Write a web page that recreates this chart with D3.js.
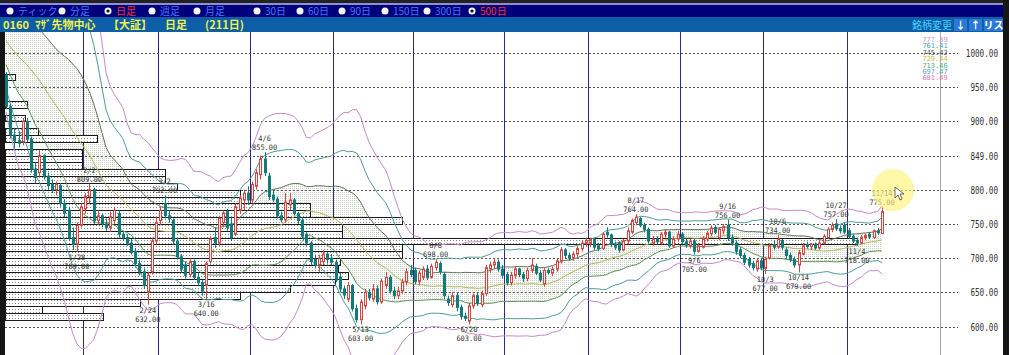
<!DOCTYPE html>
<html>
<head>
<meta charset="utf-8">
<script src="https://cdn.jsdelivr.net/npm/d3@7"></script>
<style>
html, body { margin: 0; padding: 0; background: #1a1a1a; overflow: hidden; }
svg { display: block; }
</style>
</head>
<body>
<script>
// daily candles, 211 sessions (Jan 4 - Nov 14), one line per month
const opens = [
  968,921,880,872,870,900,874,830,825,850,820,808,800,806,780,770,730,720,748,
  772,790,800,755,762,750,745,755,765,735,730,722,710,692,680,650,680,725,
  755,780,762,755,725,702,690,676,695,672,664,660,695,730,722,752,768,750,735,770,785,795,
  785,805,822,845,820,792,786,762,756,778,785,765,755,735,722,698,690,695,706,700,
  694,672,655,640,660,626,610,630,650,640,655,636,660,672,652,645,652,665,682,
  682,666,672,684,672,686,692,676,640,632,645,628,615,608,630,645,632,648,684,690,694,684,
  676,664,675,684,676,670,682,688,678,662,682,678,684,696,712,704,700,706,714,722,
  722,727,718,714,738,734,720,722,712,725,738,752,758,748,742,722,728,722,735,738,718,728,
  735,724,718,725,710,716,728,736,745,730,740,748,730,722,712,704,698,692,684,696,
  685,700,720,716,726,712,704,698,690,706,720,717,720,715,722,730,742,750,743,748,
  740,732,726,722,730,735,730,740,736
];
const highs = [
  972,926,890,885,905,905,878,840,858,852,825,815,812,810,786,775,745,752,780,
  795,809,803,770,765,758,768,775,770,740,735,728,715,698,685,680,730,760,
  775,792,770,758,730,706,695,700,698,678,668,695,732,745,762,770,772,760,780,792,800,805,
  812,830,850,855,825,800,790,768,795,795,788,768,760,738,725,705,705,712,710,706,
  698,678,660,665,662,632,640,655,655,662,660,670,680,675,658,658,670,685,690,
  686,682,688,690,692,698,695,680,645,650,650,632,620,635,648,650,652,690,695,700,698,690,
  680,680,688,686,680,686,700,692,682,685,686,688,700,716,715,708,710,718,726,730,
  730,730,722,738,745,736,724,725,728,745,758,764,760,752,745,732,732,738,742,740,732,740,
  738,728,728,728,722,732,740,748,748,745,750,756,735,726,716,708,702,696,700,699,
  702,722,726,734,728,716,708,702,712,722,724,722,723,726,735,745,752,757,748,752,
  744,735,730,734,736,738,742,744,775
];
const lows = [
  918,875,860,862,865,870,825,810,818,815,800,795,792,775,760,725,712,709,745,
  765,780,750,748,745,740,738,750,730,725,718,705,688,675,655,632,676,720,
  748,758,752,720,698,678,670,672,668,660,645,640,692,715,718,745,740,725,732,765,770,778,
  780,800,815,820,785,782,758,752,752,770,762,750,728,718,690,685,680,690,692,690,
  665,650,640,636,622,606,603,625,638,636,632,633,655,648,640,640,648,660,672,
  662,660,668,668,670,682,676,640,630,628,622,610,608,603,626,630,628,645,678,684,680,670,
  660,660,670,672,665,666,678,675,665,658,676,674,680,692,700,696,696,702,710,716,
  716,712,710,712,730,716,712,708,710,720,735,748,745,738,722,718,720,720,730,715,715,724,
  720,715,714,705,708,714,724,732,735,726,735,725,718,705,700,690,686,682,680,682,
  677,698,712,714,712,700,694,686,679,704,714,712,712,712,720,728,738,740,736,735,
  728,722,718,720,726,728,728,734,735
];
const closes = [
  922,880,872,868,900,874,830,818,850,820,806,800,808,780,766,730,720,748,775,
  790,800,755,762,750,745,760,770,735,730,722,708,692,680,660,675,725,752,
  770,762,758,725,702,684,675,695,672,664,652,692,728,722,758,766,745,730,775,788,795,785,
  808,825,845,825,790,786,762,756,782,785,765,755,732,722,695,690,700,706,698,694,
  668,655,646,660,626,610,636,650,642,655,636,666,672,652,645,652,665,680,676,
  666,678,684,672,688,694,680,645,635,645,628,615,612,630,645,634,648,686,690,694,684,675,
  664,675,684,676,670,682,690,678,668,682,679,684,696,712,704,700,706,714,722,726,
  727,716,714,735,734,720,716,712,725,740,755,760,748,742,725,728,724,735,738,718,728,735,
  724,719,725,710,718,728,736,744,738,742,746,730,722,710,704,694,690,686,696,686,
  698,718,716,728,716,704,698,690,708,718,717,720,715,722,732,742,748,743,740,738,
  732,725,722,730,733,731,740,737,768
];
// closes before the first visible day, only used to seed the 25-day bands
const priorCloses = [1080,1065,1050,1042,1030,1005,1012,1040,1055,1048,1036,1022,
  1000,982,975,990,965,985,1002,1018,1030,1042,1035,1010];

// index of the first session of Feb ... Nov
const monthStarts = [19, 37, 59, 79, 98, 120, 140, 162, 182, 202];

// high / low callouts
const callouts = [
  { i: 17, date: '1/28', value: '709.00', side: 'low' },
  { i: 20, date: '2/2', value: '809.00', side: 'high' },
  { i: 34, date: '2/24', value: '632.00', side: 'low' },
  { i: 38, date: '3/2', value: '792.00', side: 'high' },
  { i: 48, date: '3/16', value: '640.00', side: 'low' },
  { i: 62, date: '4/6', value: '855.00', side: 'high' },
  { i: 85, date: '5/13', value: '603.00', side: 'low' },
  { i: 103, date: '6/8', value: '698.00', side: 'high' },
  { i: 111, date: '6/20', value: '603.00', side: 'low' },
  { i: 151, date: '8/17', value: '764.00', side: 'high' },
  { i: 165, date: '9/6', value: '705.00', side: 'low' },
  { i: 173, date: '9/16', value: '756.00', side: 'high' },
  { i: 182, date: '10/3', value: '677.00', side: 'low' },
  { i: 185, date: '10/6', value: '734.00', side: 'high' },
  { i: 190, date: '10/14', value: '679.00', side: 'low' },
  { i: 199, date: '10/27', value: '757.00', side: 'high' },
  { i: 204, date: '11/4', value: '718.00', side: 'low' },
  { i: 210, date: '11/14', value: '775.00', side: 'high' }
];

// volume by price, 10-point bins (lower edge), relative volume
const profileLow = [960, 920, 900, 880, 870, 850, 840, 830, 820, 810, 800, 790, 780, 770, 760,
  750, 740, 730, 720, 710, 700, 690, 680, 670, 660, 650, 640, 630, 620, 610];
const profileVol = [1.2, 2.6, 2.3, 3.9, 10.8, 9.0, 9.0, 9.0, 18.8, 18.8, 20.2, 27.6, 27.6, 35.8, 35.8,
  46.6, 39.6, 39.6, 100, 46.6, 46.6, 39.3, 39.1, 40.3, 38.7, 33.5, 27.6, 15.8, 4.3, 11.5];

const yTicks = [1000, 950, 900, 849, 800, 750, 700, 650, 600];
const bandValues = ['777.89', '761.41', '745.42', '729.44', '713.46', '697.47', '681.49'];

const periodLabels = ['ティック', '分足', '日足', '週足', '月足', '30日', '60日', '90日', '150日', '300日', '500日'];
const titleParts = ['0160', 'ﾏｻﾞ先物中心', '【大証】', '日足', '(211日)'];

const W = 1009, H = 355;
const svg = d3.select('body').append('svg').attr('width', W).attr('height', H);

const defs = svg.append('defs');
const p1 = defs.append('pattern').attr('id', 'bandDots').attr('patternUnits', 'userSpaceOnUse')
  .attr('width', 2).attr('height', 2);
p1.append('rect').attr('width', 2).attr('height', 2).attr('fill', '#fff');
p1.append('rect').attr('width', 1).attr('height', 1).attr('fill', '#c6d4bf');
const p2 = defs.append('pattern').attr('id', 'volDots').attr('patternUnits', 'userSpaceOnUse')
  .attr('width', 3).attr('height', 3);
p2.append('rect').attr('width', 3).attr('height', 3).attr('fill', '#fff');
p2.append('rect').attr('width', 1).attr('height', 1).attr('fill', '#8a8a8a');
defs.append('clipPath').attr('id', 'plotClip')
  .append('rect').attr('x', 5).attr('y', 32).attr('width', 998).attr('height', 323);

// frame
svg.append('rect').attr('width', W).attr('height', H).attr('fill', '#151515');
svg.append('rect').attr('x', 5).attr('y', 32).attr('width', 998).attr('height', 323).attr('fill', '#fff');

const x = d3.scaleLinear().domain([0, 210]).range([6, 882]);
const y = d3.scaleLinear().domain([600, 1000]).range([326.5, 53]);
const xVol = d3.scaleLinear().domain([0, 100]).range([5, 857]);

const plot = svg.append('g').attr('clip-path', 'url(#plotClip)');

// 25-day bollinger bands
const allCloses = priorCloses.concat(closes);
const off = priorCloses.length;
const boll = closes.map((c, i) => {
  const win = allCloses.slice(i + off - 24, i + off + 1);
  const m = d3.mean(win);
  const sd = Math.sqrt(d3.mean(win, v => (v - m) * (v - m)));
  return { i: i, m: m, sd: sd };
});

plot.append('path')
  .datum(boll)
  .attr('d', d3.area().x(d => x(d.i)).y0(d => y(d.m - d.sd)).y1(d => y(d.m + d.sd)))
  .attr('fill', 'url(#bandDots)');

// grid
plot.selectAll('.grid').data(yTicks).join('line')
  .attr('x1', 5).attr('x2', 958)
  .attr('y1', d => Math.round(y(d)) + 0.5).attr('y2', d => Math.round(y(d)) + 0.5)
  .attr('stroke', '#555').attr('stroke-dasharray', '2,2');

plot.selectAll('.month').data(monthStarts).join('line')
  .attr('x1', d => Math.round(x(d - 0.5)) + 0.5).attr('x2', d => Math.round(x(d - 0.5)) + 0.5)
  .attr('y1', 32).attr('y2', 355)
  .attr('stroke', '#2a2a86');

plot.append('line').attr('x1', 940.5).attr('x2', 940.5).attr('y1', 32).attr('y2', 355)
  .attr('stroke', '#a8a8a8');

// volume by price
plot.selectAll('.vol').data(profileLow).join('rect')
  .attr('x', 5.5)
  .attr('y', d => Math.round(y(d + 10)) + 0.5)
  .attr('width', (d, k) => Math.round(xVol(profileVol[k])) - 5)
  .attr('height', d => Math.round(y(d)) - Math.round(y(d + 10)))
  .attr('fill', 'url(#volDots)')
  .attr('stroke', '#1a1a1a').attr('stroke-width', 1);

// band lines
const bandLines = [
  { k: 3, color: '#c58ac4' }, { k: 2, color: '#4f9c92' }, { k: 1, color: '#5f7458' },
  { k: 0, color: '#b4b45c' }, { k: -1, color: '#5e8f58' }, { k: -2, color: '#4f9c92' },
  { k: -3, color: '#c58ac4' }
];
bandLines.forEach(b => {
  plot.append('path')
    .datum(boll)
    .attr('d', d3.line().x(d => x(d.i)).y(d => y(d.m + b.k * d.sd)))
    .attr('fill', 'none').attr('stroke', b.color).attr('stroke-width', 1);
});

// candles
const candles = closes.map((c, i) => ({ i: i, o: opens[i], h: highs[i], l: lows[i], c: c }));
const up = '#d8443f', down = '#127a7a';
plot.selectAll('.wick').data(candles).join('line')
  .attr('x1', d => Math.round(x(d.i)) + 0.5).attr('x2', d => Math.round(x(d.i)) + 0.5)
  .attr('y1', d => y(d.h)).attr('y2', d => y(d.l))
  .attr('stroke', d => d.c >= d.o ? up : down);
plot.selectAll('.body').data(candles).join('rect')
  .attr('x', d => Math.round(x(d.i)) - 0.5)
  .attr('width', 2)
  .attr('y', d => y(Math.max(d.o, d.c)))
  .attr('height', d => Math.max(1, Math.abs(y(d.o) - y(d.c))))
  .attr('fill', d => d.c >= d.o ? '#fff3f0' : down)
  .attr('stroke', d => d.c >= d.o ? up : down);

const mono = '"DejaVu Sans Mono", "Liberation Mono", monospace';
function squeezed(g, txt, cx, cy, size, charW, color, anchor) {
  return g.append('text').attr('x', cx).attr('y', cy)
    .attr('font-family', mono).attr('font-size', size)
    .attr('text-anchor', anchor || 'middle').attr('fill', color)
    .attr('textLength', txt.length * charW).attr('lengthAdjust', 'spacingAndGlyphs')
    .text(txt);
}

// callouts: date over value
callouts.forEach(c => {
  const cx = x(c.i);
  if (c.side === 'high') {
    const yy = y(highs[c.i]);
    squeezed(plot, c.date, cx, yy - 11, 7.5, 4.2, '#333');
    squeezed(plot, c.value, cx, yy - 2, 7.5, 4.2, '#333');
  } else {
    const yy = y(lows[c.i]);
    squeezed(plot, c.date, cx, yy + 8, 7.5, 4.2, '#333');
    squeezed(plot, c.value, cx, yy + 17, 7.5, 4.2, '#333');
  }
});

// right axis
yTicks.forEach(v => {
  squeezed(svg, d3.format('.2f')(v), 998, y(v) + 4, 10, 4.6, '#333', 'end');
});

// band legend
const legendColors = ['#c98fd0', '#4aa2b2', '#3f5555', '#c9b94a', '#4cae82', '#5aa3b8', '#e07ab5'];
bandValues.forEach((v, j) => {
  squeezed(svg, v, 935, 42 + j * 6.4, 7, 4.2, legendColors[j]);
});

// top bars
svg.append('rect').attr('x', 0).attr('y', 0).attr('width', W).attr('height', 3).attr('fill', '#222');
svg.append('rect').attr('x', 0).attr('y', 3).attr('width', 1003).attr('height', 2).attr('fill', '#8d8fd2');
svg.append('rect').attr('x', 0).attr('y', 5).attr('width', 1003).attr('height', 12).attr('fill', '#00007a');
svg.append('rect').attr('x', 0).attr('y', 17).attr('width', 1003).attr('height', 15).attr('fill', '#0c5ea6');

const jp = '"Noto Sans CJK JP", "Noto Sans", sans-serif';
const radioX = [10, 62, 108, 152, 197, 257, 300, 342, 385, 427, 472];
const selected = [2, 10];
periodLabels.forEach((t, j) => {
  svg.append('circle').attr('cx', radioX[j]).attr('cy', 11).attr('r', 3.5).attr('fill', '#f4f4f4');
  if (selected.includes(j)) {
    svg.append('circle').attr('cx', radioX[j]).attr('cy', 11).attr('r', 1.6).attr('fill', '#111');
  }
  svg.append('text').attr('x', radioX[j] + 8).attr('y', 15)
    .attr('font-family', jp).attr('font-size', 10)
    .attr('fill', selected.includes(j) ? '#ff2b2b' : '#4274ff')
    .text(t);
});

const titleX = [3, 35, 108, 165, 205];
titleParts.forEach((t, j) => {
  svg.append('text').attr('x', titleX[j]).attr('y', 29)
    .attr('font-family', jp).attr('font-size', 11).attr('font-weight', 'bold')
    .attr('fill', '#f2f04a').text(t);
});

svg.append('text').attr('x', 912).attr('y', 29)
  .attr('font-family', jp).attr('font-size', 10).attr('fill', '#4fd0ff').text('銘柄変更');
[{ x0: 954, w: 13, t: '↓' }, { x0: 969, w: 13, t: '↑' }, { x0: 984, w: 19, t: 'リス' }].forEach(b => {
  svg.append('rect').attr('x', b.x0).attr('y', 19).attr('width', b.w).attr('height', 12).attr('fill', '#2c78d6');
  svg.append('text').attr('x', b.x0 + b.w / 2).attr('y', 29).attr('text-anchor', 'middle')
    .attr('font-family', jp).attr('font-size', 10).attr('font-weight', 'bold')
    .attr('fill', '#fff').text(b.t);
});

// right edge
svg.append('rect').attr('x', 1003).attr('y', 0).attr('width', 6).attr('height', H).attr('fill', '#151515');

// pointer highlight from the screen capture
svg.append('circle').attr('cx', 893).attr('cy', 190).attr('r', 21)
  .attr('fill', '#fff27a').attr('opacity', 0.65);
svg.append('path')
  .attr('d', 'M895,187 l0,11 l3,-3 l2,5 l2,-1 l-2,-5 l4,0 z')
  .attr('fill', '#fff').attr('stroke', '#333').attr('stroke-width', 0.7);
</script>
</body>
</html>
